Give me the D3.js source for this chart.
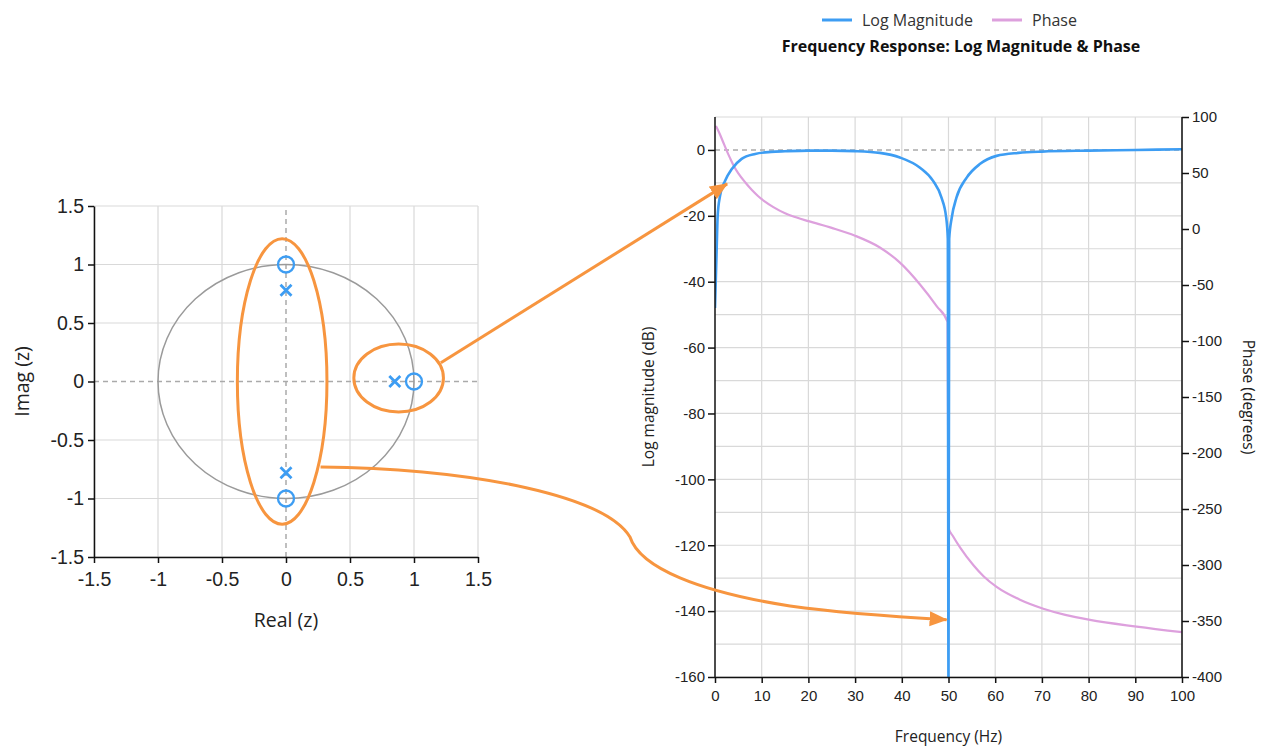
<!DOCTYPE html>
<html><head><meta charset="utf-8">
<script src="https://cdn.jsdelivr.net/npm/d3@7"></script>
<style>
body{margin:0;background:#fff;}
svg{display:block;font-family:"Open Sans","Noto Sans",sans-serif;}
</style></head><body>
<svg id="c" width="1261" height="749"></svg>
<script>
// ---- Pole-zero data ----
const zerosRe = [0, 0, 1];
const zerosIm = [1, -1, 0];
const polesRe = [0, 0, 0.85];
const polesIm = [0.78, -0.78, 0];
const pzTicks = [-1.5, -1, -0.5, 0, 0.5, 1, 1.5];
const pzTickLabels = ["-1.5", "-1", "-0.5", "0", "0.5", "1", "1.5"];

// ---- Frequency response data ----
const magFreq = [0, 0.36, 0.57, 1.07, 2.14, 3.6, 5.7, 8.6, 12, 15, 20, 25, 30, 35.3, 39.6, 43.9, 46.7, 48.5, 49.5, 49.85, 50, 50.15, 50.7, 51.7, 53.9, 56.7, 60.3, 65, 70, 80, 90, 100];
const magDb   = [-48, -30, -20, -14, -9.4, -5.8, -2.7, -1.2, -0.6, -0.4, -0.2, -0.2, -0.35, -0.9, -2.3, -5.4, -9.4, -14.5, -20.5, -27, -165, -27, -20.5, -14.5, -8.4, -4.3, -1.8, -0.9, -0.5, -0.2, 0, 0.2];
const phFreq  = [0.2, 1, 1.8, 2.5, 3.2, 4, 5, 6.5, 7.9, 9.2, 10.7, 12.5, 15, 17.5, 20, 25, 30, 35.3, 39.6, 43.9, 47.5, 49.8, 50, 51, 52.5, 55.3, 57.5, 60.3, 65.3, 70.3, 75, 80.3, 90.3, 100];
const phDeg   = [92, 85, 77, 70, 63.5, 56.5, 49.7, 41.5, 34.8, 29.5, 24.4, 19.5, 14, 10.2, 7, 1, -6, -16.5, -30, -49.5, -69, -83, -267, -274.5, -284.5, -300, -310, -319.5, -331, -339, -344.5, -349, -355, -360];
const freqTicks = [0, 10, 20, 30, 40, 50, 60, 70, 80, 90, 100];
const dbTicks = [0, -20, -40, -60, -80, -100, -120, -140, -160];
const dbGrid = [10, 0, -10, -20, -30, -40, -50, -60, -70, -80, -90, -100, -110, -120, -130, -140, -150, -160];
const phTicks = [100, 50, 0, -50, -100, -150, -200, -250, -300, -350, -400];
const seriesNames = ["Log Magnitude", "Phase"];

// ---- Annotations (in data coordinates) ----
const ellipseCx = [-0.03, 0.88];
const ellipseCy = [0.0, 0.03];
const ellipseRx = [0.35, 0.35];
const ellipseRy = [1.22, 0.29];

const BLUE = "#3d9df3", PINK = "#dda0dd", ORANGE = "#f7953f", GRID = "#d9d9d9";
const svg = d3.select("#c");
const plain = d => String(d);

// ================= Left: pole-zero plot =================
const px = d3.scaleLinear().domain([-1.5, 1.5]).range([94, 478]);
const py = d3.scaleLinear().domain([-1.5, 1.5]).range([557, 206]);
const L = svg.append("g");
L.selectAll(".gx").data(pzTicks.filter(d => d !== 0)).join("line")
  .attr("x1", d => px(d)).attr("x2", d => px(d)).attr("y1", py(-1.5)).attr("y2", py(1.5))
  .attr("stroke", GRID).attr("stroke-width", 1.2);
L.selectAll(".gy").data(pzTicks.filter(d => d !== 0)).join("line")
  .attr("y1", d => py(d)).attr("y2", d => py(d)).attr("x1", px(-1.5)).attr("x2", px(1.5))
  .attr("stroke", GRID).attr("stroke-width", 1.2);
L.append("line").attr("x1", px(0)).attr("x2", px(0)).attr("y1", py(-1.5)).attr("y2", py(1.5))
  .attr("stroke", "#aaa").attr("stroke-width", 1.5).attr("stroke-dasharray", "5,4");
L.append("line").attr("y1", py(0)).attr("y2", py(0)).attr("x1", px(-1.5)).attr("x2", px(1.5))
  .attr("stroke", "#aaa").attr("stroke-width", 1.5).attr("stroke-dasharray", "5,4");
// unit circle
L.append("ellipse").attr("cx", px(0)).attr("cy", py(0))
  .attr("rx", px(1) - px(0)).attr("ry", py(0) - py(1))
  .attr("fill", "none").attr("stroke", "#9a9a9a").attr("stroke-width", 1.5);
// axes
const ax = d3.axisBottom(px).tickValues(pzTicks).tickFormat((d, i) => pzTickLabels[i]).tickSize(6).tickSizeOuter(0);
const ay = d3.axisLeft(py).tickValues(pzTicks).tickFormat((d, i) => pzTickLabels[i]).tickSize(6).tickSizeOuter(0);
const gax = L.append("g").attr("transform", `translate(0,${py(-1.5)})`).call(ax);
const gay = L.append("g").attr("transform", `translate(${px(-1.5)},0)`).call(ay);
[gax, gay].forEach(g => {
  g.select(".domain").attr("stroke", "#111").attr("stroke-width", 1.5);
  g.selectAll(".tick line").attr("stroke", "#111").attr("stroke-width", 1.5);
  g.selectAll("text").attr("font-size", 19.5).attr("fill", "#222").attr("font-family", null);
});
gax.selectAll("text").attr("dy", "1.0em");
gay.selectAll("text").attr("dx", "-0.05em");
L.append("text").attr("x", px(0)).attr("y", 627).attr("text-anchor", "middle")
  .attr("font-size", 19.5).attr("fill", "#222").text("Real (z)");
L.append("text").attr("transform", `translate(29,${py(0)}) rotate(-90)`).attr("text-anchor", "middle")
  .attr("font-size", 19.5).attr("fill", "#222").text("Imag (z)");
// zeros
L.selectAll(".zero").data(zerosRe).join("circle")
  .attr("cx", d => px(d)).attr("cy", (d, i) => py(zerosIm[i])).attr("r", 8)
  .attr("fill", "none").attr("stroke", BLUE).attr("stroke-width", 2.3);
// poles
const xs = 5.5;
polesRe.forEach((re, i) => {
  const cx = px(re), cy = py(polesIm[i]);
  L.append("path").attr("d", `M${cx - xs},${cy - xs}L${cx + xs},${cy + xs}M${cx - xs},${cy + xs}L${cx + xs},${cy - xs}`)
    .attr("stroke", BLUE).attr("stroke-width", 2.8).attr("fill", "none");
});

// ================= Right: frequency response =================
const fx = d3.scaleLinear().domain([0, 100]).range([715, 1182]);
const my = d3.scaleLinear().domain([-160, 10]).range([677, 117]);
const phy = d3.scaleLinear().domain([-400, 100]).range([677, 117]);
const R = svg.append("g");
R.append("clipPath").attr("id", "clipR").append("rect")
  .attr("x", fx(0)).attr("y", my(10)).attr("width", fx(100) - fx(0)).attr("height", my(-160) - my(10));
R.selectAll(".gfx").data(freqTicks.slice(1)).join("line")
  .attr("x1", d => fx(d)).attr("x2", d => fx(d)).attr("y1", my(-160)).attr("y2", my(10))
  .attr("stroke", GRID).attr("stroke-width", 1.2);
R.selectAll(".gdb").data(dbGrid.filter(d => d !== 0)).join("line")
  .attr("y1", d => my(d)).attr("y2", d => my(d)).attr("x1", fx(0)).attr("x2", fx(100))
  .attr("stroke", GRID).attr("stroke-width", 1.2);
R.append("line").attr("y1", my(0)).attr("y2", my(0)).attr("x1", fx(0)).attr("x2", fx(100))
  .attr("stroke", "#aaa").attr("stroke-width", 1.5).attr("stroke-dasharray", "5,4");

const plot = R.append("g").attr("clip-path", "url(#clipR)");
const magLine = d3.line().x((d, i) => fx(magFreq[i])).y(d => my(d)).curve(d3.curveMonotoneX);
const phLine = d3.line().x((d, i) => fx(phFreq[i])).y(d => phy(d)).curve(d3.curveMonotoneX);
plot.append("path").attr("d", phLine(phDeg)).attr("fill", "none").attr("stroke", PINK).attr("stroke-width", 2.2);
plot.append("path").attr("d", magLine(magDb)).attr("fill", "none").attr("stroke", BLUE).attr("stroke-width", 2.6);

const fAx = d3.axisBottom(fx).tickValues(freqTicks).tickFormat(plain).tickSize(6).tickSizeOuter(0);
const mAx = d3.axisLeft(my).tickValues(dbTicks).tickFormat(plain).tickSize(7).tickSizeOuter(0);
const pAx = d3.axisRight(phy).tickValues(phTicks).tickFormat(plain).tickSize(7).tickSizeOuter(0);
const gf = R.append("g").attr("transform", `translate(0,${my(-160)})`).call(fAx);
const gm = R.append("g").attr("transform", `translate(${fx(0)},0)`).call(mAx);
const gp = R.append("g").attr("transform", `translate(${fx(100)},0)`).call(pAx);
[gf, gm, gp].forEach(g => {
  g.select(".domain").attr("stroke", "#111").attr("stroke-width", 1.5);
  g.selectAll(".tick line").attr("stroke", "#111").attr("stroke-width", 1.5);
  g.selectAll("text").attr("font-size", 15).attr("fill", "#222").attr("font-family", null);
});
gm.select(".domain").attr("d", `M0,${my(-160)}V${my(10)}`);
gp.select(".domain").attr("d", `M0,${phy(-400)}V${phy(100)}`);
gf.selectAll("text").attr("dy", "1.0em");
R.append("text").attr("x", (fx(0) + fx(100)) / 2).attr("y", 742).attr("text-anchor", "middle")
  .attr("font-size", 15.5).attr("fill", "#222").text("Frequency (Hz)");
R.append("text").attr("transform", `translate(654,${(my(-160) + my(10)) / 2}) rotate(-90)`).attr("text-anchor", "middle")
  .attr("font-size", 15.5).attr("fill", "#222").text("Log magnitude (dB)");
R.append("text").attr("transform", `translate(1243,${(my(-160) + my(10)) / 2}) rotate(90)`).attr("text-anchor", "middle")
  .attr("font-size", 15.5).attr("fill", "#222").text("Phase (degrees)");

// title and legend
svg.append("text").attr("x", 961).attr("y", 52).attr("text-anchor", "middle")
  .attr("font-size", 16).attr("font-weight", "bold").attr("fill", "#111")
  .text("Frequency Response: Log Magnitude & Phase");
const legX = [822, 992];
const legC = [BLUE, PINK];
seriesNames.forEach((n, i) => {
  svg.append("line").attr("x1", legX[i]).attr("x2", legX[i] + 30).attr("y1", 20).attr("y2", 20)
    .attr("stroke", legC[i]).attr("stroke-width", 3);
  svg.append("text").attr("x", legX[i] + 40).attr("y", 26).attr("font-size", 16).attr("fill", "#333").text(n);
});

// ================= Annotations =================
const A = svg.append("g");
A.append("defs").append("marker").attr("id", "ah").attr("markerUnits", "userSpaceOnUse")
  .attr("viewBox", "0 -8 18 16").attr("markerWidth", 18).attr("markerHeight", 16)
  .attr("refX", 17).attr("refY", 0).attr("orient", "auto")
  .append("path").attr("d", "M0,-7.5L18,0L0,7.5Z").attr("fill", ORANGE);
ellipseCx.forEach((cx, i) => {
  A.append("ellipse").attr("cx", px(cx)).attr("cy", py(ellipseCy[i]))
    .attr("rx", px(ellipseRx[i]) - px(0)).attr("ry", py(0) - py(ellipseRy[i]))
    .attr("fill", "none").attr("stroke", ORANGE).attr("stroke-width", 3);
});
// arrow 1: from small ellipse to rising edge of magnitude
const a1s = [px(1.21), py(0.16)], a1e = [fx(2.6), my(-10.3)];
A.append("path").attr("d", `M${a1s[0]},${a1s[1]}L${a1e[0]},${a1e[1]}`)
  .attr("stroke", ORANGE).attr("stroke-width", 3).attr("fill", "none").attr("marker-end", "url(#ah)");
// arrow 2: curved, from big ellipse to the notch at 50 Hz
const s = [px(0.27), py(-0.73)], e = [fx(49.6), my(-142.6)];
const p2 = d3.path();
p2.moveTo(s[0], s[1]);
p2.bezierCurveTo(s[0] + 160, s[1] + 2, s[0] + 285, s[1] + 30, 630, 537);
p2.bezierCurveTo(640, 568, 700, 592, 790, 606);
p2.bezierCurveTo(840, 613, 900, 617, e[0], e[1]);
A.append("path").attr("d", p2.toString())
  .attr("stroke", ORANGE).attr("stroke-width", 3).attr("fill", "none").attr("marker-end", "url(#ah)");
</script>
</body></html>
